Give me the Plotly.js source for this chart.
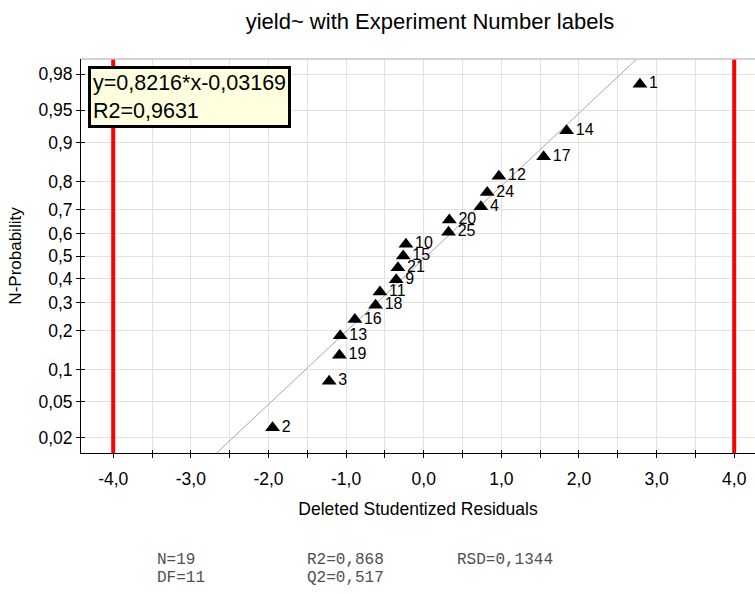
<!DOCTYPE html>
<html><head><meta charset="utf-8">
<script src="https://cdn.plot.ly/plotly-3.0.1.min.js"></script>
<style>html,body{margin:0;padding:0;background:#fff;} #chart{width:755px;height:594px;}</style>
</head><body><div id="chart"></div>
<script>
// ---- data ----
const expLabels = ["2","3","19","13","16","18","11","9","21","15","10","25","20","4","24","12","17","14","1"];
const residuals = [-1.947,-1.218,-1.086,-1.076,-0.887,-0.620,-0.564,-0.354,-0.332,-0.264,-0.229,0.320,0.330,0.737,0.818,0.969,1.545,1.841,2.786];
const probabilities = [0.0263,0.0789,0.1316,0.1842,0.2368,0.2895,0.3421,0.3947,0.4474,0.5,0.5526,0.6053,0.6579,0.7105,0.7632,0.8158,0.8684,0.9211,0.9737];
const probTickVals = [0.02,0.05,0.1,0.2,0.3,0.4,0.5,0.6,0.7,0.8,0.9,0.95,0.98];
const probTickText = ["0,02","0,05","0,1","0,2","0,3","0,4","0,5","0,6","0,7","0,8","0,9","0,95","0,98"];
const xTickVals = [-4,-3.5,-3,-2.5,-2,-1.5,-1,-0.5,0,0.5,1,1.5,2,2.5,3,3.5,4];
const xTickText = ["-4,0","","-3,0","","-2,0","","-1,0","","0,0","","1,0","","2,0","","3,0","","4,0"];
const fitSlope = 0.8216;
const fitIntercept = -0.03169;
const limitLines = [-4, 4];
const fitText = ["y=0,8216*x-0,03169", "R2=0,9631"];
const statsLabels = ["N=19", "R2=0,868", "RSD=0,1344", "DF=11", "Q2=0,517"];

// ---- normal-probability scale helper (inverse normal CDF) ----
function normInv(p){
  const a=[-3.969683028665376e+01,2.209460984245205e+02,-2.759285104469687e+02,1.383577518672690e+02,-3.066479806614716e+01,2.506628277459239e+00];
  const b=[-5.447609879822406e+01,1.615858368580409e+02,-1.556989798598866e+02,6.680131188771972e+01,-1.328068155288572e+01];
  const c=[-7.784894002430293e-03,-3.223964580411365e-01,-2.400758277161838e+00,-2.549732539343734e+00,4.374664141464968e+00,2.938163982698783e+00];
  const d=[7.784695709041462e-03,3.224671290700398e-01,2.445134137142996e+00,3.754408661907416e+00];
  const pl=0.02425, ph=1-pl; let q,r;
  if(p<pl){q=Math.sqrt(-2*Math.log(p));return (((((c[0]*q+c[1])*q+c[2])*q+c[3])*q+c[4])*q+c[5])/((((d[0]*q+d[1])*q+d[2])*q+d[3])*q+1);}
  if(p<=ph){q=p-0.5;r=q*q;return (((((a[0]*r+a[1])*r+a[2])*r+a[3])*r+a[4])*r+a[5])*q/(((((b[0]*r+b[1])*r+b[2])*r+b[3])*r+b[4])*r+1);}
  q=Math.sqrt(-2*Math.log(1-p));return -(((((c[0]*q+c[1])*q+c[2])*q+c[3])*q+c[4])*q+c[5])/((((d[0]*q+d[1])*q+d[2])*q+d[3])*q+1);
}

const xRange = [-4.415, 4.268];
const yRange = [-2.2233, 2.2233];
const FONT = 'Arial, "Liberation Sans", sans-serif';
const MONO = '"Courier New", "Liberation Mono", monospace';

const fitX = xRange.slice();
const fitY = fitX.map(x => fitSlope * x + fitIntercept);

const traces = [
  {x: fitX, y: fitY, mode: 'lines', line: {color: '#a8a8a8', width: 1}, hoverinfo: 'skip'},
  {x: residuals, y: probabilities.map(normInv), mode: 'markers+text',
   text: expLabels, textposition: 'middle right',
   textfont: {family: FONT, size: 16, color: '#000'},
   marker: {symbol: 'triangle-up', size: 13, color: '#000'}, cliponaxis: false},
  {x: [], y: [], xaxis: 'x2', yaxis: 'y2', mode: 'markers', hoverinfo: 'skip'}
];

const shapes = limitLines.map(v => ({type: 'line', xref: 'x', yref: 'paper', x0: v, x1: v, y0: 0, y1: 1,
  line: {color: '#ff0000', width: 4}}));
shapes.push({type: 'line', xref: 'paper', yref: 'paper', x0: 0, x1: 1, y0: 1, y1: 1, line: {color: '#c4c4c4', width: 1.5}});

const L = 81, T = 59, W = 674, H = 394;
const px = v => (v - L) / W;
const py = v => (T + H - v) / H;

const annotations = [
  {xref: 'paper', yref: 'paper', x: px(88), y: py(66), xanchor: 'left', yanchor: 'top', align: 'left',
   text: fitText.join('<br>'), showarrow: false, bgcolor: '#ffffe0', bordercolor: '#000', borderwidth: 3, borderpad: 2,
   font: {family: FONT, size: 21.5, color: '#000'}},
];
const statPos = [[155, 560], [305, 560], [455, 560], [155, 578], [305, 578]];
statsLabels.forEach((s, i) => annotations.push({xref: 'paper', yref: 'paper', x: px(statPos[i][0]), y: py(statPos[i][1]),
  xanchor: 'left', yanchor: 'middle', text: s, showarrow: false, font: {family: MONO, size: 16, color: '#505050'}}));

const layout = {
  width: 755, height: 594,
  margin: {l: L, r: 0, t: T, b: 594 - T - H, pad: 0},
  paper_bgcolor: '#fff', plot_bgcolor: '#fff', showlegend: false,
  font: {family: FONT, color: '#000'},
  title: {text: 'yield~ with Experiment Number labels', font: {family: FONT, size: 22, color: '#000'},
    xref: 'container', x: 430 / 755, xanchor: 'center', yref: 'container', y: 1 - 21 / 594, yanchor: 'middle'},
  xaxis: {range: xRange, tickmode: 'array', tickvals: xTickVals, ticktext: xTickText,
    ticks: 'outside', ticklen: 4, tickcolor: '#000', tickwidth: 1, ticklabelstandoff: 6,
    showline: true, linecolor: '#000', linewidth: 1, showgrid: true, gridcolor: '#e2e2e2', gridwidth: 1, zeroline: false,
    tickfont: {family: FONT, size: 17.5, color: '#000'},
    title: {text: 'Deleted Studentized Residuals', font: {family: FONT, size: 17.5, color: '#000'}, standoff: 14}, fixedrange: true},
  yaxis: {range: yRange, tickmode: 'array', tickvals: probTickVals.map(normInv), ticktext: probTickText,
    ticks: 'outside', ticklen: 4, tickcolor: '#000', tickwidth: 1,
    showline: true, linecolor: '#000', linewidth: 1, showgrid: true, gridcolor: '#e2e2e2', gridwidth: 1, zeroline: false,
    tickfont: {family: FONT, size: 17.5, color: '#000'},
    title: {text: 'N-Probability', font: {family: FONT, size: 17, color: '#000'}, standoff: 12}, fixedrange: true},
  xaxis2: {overlaying: 'x', anchor: 'y2', range: xRange, tickmode: 'array', tickvals: xTickVals, ticks: 'inside', ticklen: 3,
    tickcolor: '#000', showticklabels: false, showgrid: false, zeroline: false, showline: false, fixedrange: true},
  yaxis2: {overlaying: 'y', anchor: 'x2', range: yRange, tickmode: 'array', tickvals: probTickVals.map(normInv), ticks: 'inside', ticklen: 4,
    tickcolor: '#000', showticklabels: false, showgrid: false, zeroline: false, showline: false, fixedrange: true},
  shapes: shapes,
  annotations: annotations
};

Plotly.newPlot('chart', traces, layout, {displayModeBar: false, staticPlot: true});
</script>
</body></html>
